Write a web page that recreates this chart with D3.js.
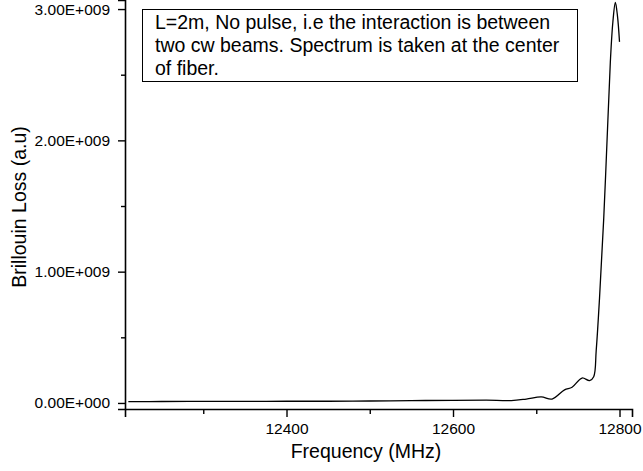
<!DOCTYPE html>
<html>
<head>
<meta charset="utf-8">
<script src="https://cdn.jsdelivr.net/npm/d3@7"></script>
<style>
  body { margin: 0; background: #fff; }
  svg { font-family: "Liberation Sans", Arial, sans-serif; }
</style>
</head>
<body>
<svg id="chart" width="643" height="471"></svg>
<script>
// spectrum: frequency in MHz, loss in units of 1e9
let freq = [12210, 12250, 12300, 12350, 12400, 12450, 12500, 12550, 12600, 12640, 12670, 12688, 12706, 12719, 12734, 12743, 12755, 12764, 12769, 12772, 12776, 12781, 12786, 12789, 12792, 12795, 12797.5, 12800];
let loss = [0.010, 0.011, 0.012, 0.012, 0.013, 0.013, 0.015, 0.018, 0.020, 0.021, 0.018, 0.030, 0.046, 0.030, 0.100, 0.120, 0.190, 0.170, 0.200, 0.400, 0.800, 1.400, 2.150, 2.600, 2.900, 3.050, 2.950, 2.750];

let xMajor = [12400, 12600, 12800];
let xMinor = [12300, 12500, 12700];
let yMajor = [0, 1e9, 2e9, 3e9];
let yMinor = [0.5e9, 1.5e9, 2.5e9];

let note = ["L=2m, No pulse, i.e the interaction is between",
            "two cw beams. Spectrum is taken at the center",
            "of fiber."];

let plotLeft = 125, plotRight = 632, plotTop = 0, plotBottom = 409;

let x = d3.scaleLinear().domain([12206, 12815]).range([plotLeft, plotRight]);
let y = d3.scaleLinear().domain([-0.046e9, 3.069e9]).range([plotBottom, plotTop]);

let svg = d3.select("#chart");

let yFmt = function(d) {
  if (d === 0) return "0.00E+000";
  let e = Math.floor(Math.log10(d));
  return (d / Math.pow(10, e)).toFixed(2) + "E+" + String(e).padStart(3, "0");
};

// y axis
svg.append("g")
  .attr("transform", "translate(" + plotLeft + ",0)")
  .call(d3.axisLeft(y).tickValues(yMajor).tickFormat(yFmt).tickSize(7).tickPadding(8));
svg.append("g")
  .attr("transform", "translate(" + plotLeft + ",0)")
  .call(d3.axisLeft(y).tickValues(yMinor).tickFormat("").tickSize(4))
  .select(".domain").remove();

// x axis
svg.append("g")
  .attr("transform", "translate(0," + plotBottom + ")")
  .call(d3.axisBottom(x).tickValues(xMajor).tickFormat(d3.format("d")).tickSize(8).tickPadding(6));
svg.append("g")
  .attr("transform", "translate(0," + plotBottom + ")")
  .call(d3.axisBottom(x).tickValues(xMinor).tickFormat("").tickSize(5))
  .select(".domain").remove();

svg.selectAll(".domain").attr("stroke-width", 1.6);
svg.selectAll(".tick line").attr("stroke-width", 1.4);
svg.selectAll(".tick text")
  .attr("font-family", "'Liberation Sans', Arial, sans-serif")
  .attr("font-size", 15.5)
  .attr("fill", "#000");

// axis titles
svg.append("text")
  .attr("x", 366)
  .attr("y", 458)
  .attr("text-anchor", "middle")
  .attr("font-size", 19.5)
  .text("Frequency (MHz)");

svg.append("text")
  .attr("transform", "translate(26,207) rotate(-90)")
  .attr("text-anchor", "middle")
  .attr("font-size", 19.5)
  .text("Brillouin Loss (a.u)");

// spectrum
let pts = freq.map((f, i) => [f, loss[i] * 1e9]);
let line = d3.line()
  .x(d => x(d[0]))
  .y(d => y(d[1]))
  .curve(d3.curveCatmullRom.alpha(0.5));

svg.append("path")
  .datum(pts)
  .attr("fill", "none")
  .attr("stroke", "#000")
  .attr("stroke-width", 1.3)
  .attr("d", line);

// annotation box
svg.append("rect")
  .attr("x", 142.5)
  .attr("y", 9.5)
  .attr("width", 435)
  .attr("height", 72)
  .attr("fill", "#fff")
  .attr("stroke", "#000")
  .attr("stroke-width", 1);

svg.selectAll(".note")
  .data(note)
  .enter().append("text")
    .attr("class", "note")
    .attr("x", 155)
    .attr("y", (d, i) => 29 + i * 23)
    .attr("font-size", 19.5)
    .text(d => d);
</script>
</body>
</html>
